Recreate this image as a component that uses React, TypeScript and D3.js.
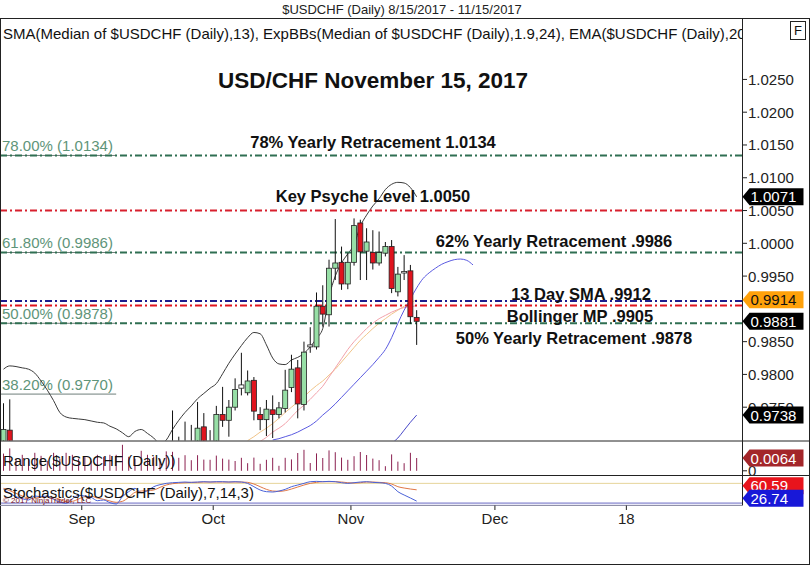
import React from "react";
import * as d3 from "d3";

// ---------- DATA ----------
const tradingDates = [
  "8/15","8/16","8/17","8/18","8/21","8/22","8/23","8/24","8/25","8/28","8/29","8/30","8/31",
  "9/1","9/4","9/5","9/6","9/7","9/8","9/11","9/12","9/13","9/14","9/15","9/18","9/19","9/20","9/21","9/22","9/25","9/26","9/27","9/28","9/29",
  "10/2","10/3","10/4","10/5","10/6","10/9","10/10","10/11","10/12","10/13","10/16","10/17","10/18","10/19","10/20","10/23","10/24","10/25","10/26","10/27","10/30","10/31",
  "11/1","11/2","11/3","11/6","11/7","11/8","11/9","11/10","11/13","11/14","11/15",
];

const openPrices = [
  0.9690,0.9715,0.9660,0.9640,0.9620,0.9600,0.9670,0.9620,0.9630,0.9560,0.9540,0.9520,0.9580,
  0.9590,0.9580,0.9570,0.9510,0.9540,0.9480,0.9460,0.9570,0.9600,0.9630,0.9570,0.9600,0.9640,0.9645,0.9690,0.9680,0.9665,0.9690,0.9685,0.9720,0.9692,
  0.9684,0.9739,0.9730,0.9750,0.9779,0.9772,0.9791,0.9739,0.9731,0.9746,0.9739,0.9748,0.9780,0.9810,0.9754,0.9845,0.9842,0.9904,0.9891,0.9962,0.9971,0.9938,
  0.9971,1.0031,0.9988,0.9986,0.9970,0.9985,0.9995,0.9926,0.9957,0.9958,0.9887,
];
const highPrices = [
  0.9756,0.9762,0.9690,0.9660,0.9640,0.9680,0.9685,0.9650,0.9640,0.9580,0.9560,0.9590,0.9610,
  0.9630,0.9600,0.9580,0.9560,0.9550,0.9500,0.9580,0.9620,0.9640,0.9650,0.9620,0.9660,0.9680,0.9697,0.9745,0.9705,0.9728,0.9723,0.9758,0.9741,0.9715,
  0.9752,0.9781,0.9761,0.9794,0.9833,0.9806,0.9796,0.9750,0.9761,0.9768,0.9758,0.9807,0.9830,0.9822,0.9850,0.9872,0.9925,0.9936,0.9975,1.0037,0.9995,0.9985,
  1.0038,1.0036,1.0023,1.0020,1.0018,1.0002,1.0005,0.9964,0.9982,0.9967,0.9898,
];
const lowPrices = [
  0.9670,0.9650,0.9630,0.9580,0.9580,0.9590,0.9610,0.9600,0.9550,0.9520,0.9470,0.9510,0.9550,
  0.9560,0.9550,0.9500,0.9490,0.9470,0.9420,0.9450,0.9550,0.9580,0.9550,0.9540,0.9590,0.9620,0.9600,0.9650,0.9640,0.9650,0.9670,0.9680,0.9685,0.9660,
  0.9675,0.9720,0.9705,0.9745,0.9768,0.9768,0.9730,0.9715,0.9706,0.9703,0.9733,0.9742,0.9773,0.9733,0.9745,0.9833,0.9838,0.9873,0.9873,0.9944,0.9929,0.9930,
  0.9966,0.9944,0.9944,0.9960,0.9966,0.9980,0.9924,0.9919,0.9944,0.9877,0.9845,
];
const closePrices = [
  0.9716,0.9660,0.9640,0.9620,0.9600,0.9670,0.9620,0.9630,0.9560,0.9540,0.9520,0.9580,0.9590,
  0.9580,0.9570,0.9510,0.9540,0.9480,0.9460,0.9570,0.9600,0.9630,0.9570,0.9600,0.9640,0.9645,0.9690,0.9680,0.9665,0.9690,0.9685,0.9718,0.9692,0.9684,
  0.9739,0.9730,0.9750,0.9777,0.9784,0.9790,0.9744,0.9731,0.9747,0.9739,0.9749,0.9776,0.9808,0.9755,0.9834,0.9842,0.9904,0.9892,0.9962,0.9970,0.9938,0.9971,
  1.0027,0.9987,1.0002,0.9970,0.9986,0.9995,0.9931,0.9953,0.9955,0.9888,0.9881,
];

const upperBand = [
  0.9808,0.9813,0.9812,0.9810,0.9808,0.9802,0.9790,0.9776,0.9760,0.9742,
  0.9735,0.9733,0.9732,0.9731,0.9729,0.9727,0.9726,0.9721,0.9717,0.9711,
  0.9705,0.9713,0.9716,0.9710,0.9703,0.9694,0.9700,0.9716,0.9730,0.9742,
  0.9752,0.9763,0.9771,0.9779,0.9786,0.9801,0.9817,0.9831,0.9844,0.9856,
  0.9864,0.9862,0.9845,0.9825,0.9816,0.9815,0.9822,0.9826,0.9832,0.9842,
  0.9855,0.9870,0.9918,0.9950,0.9970,0.9984,0.9998,1.0026,1.0043,1.0057,
  1.0068,1.0082,1.0090,1.0093,1.0092,1.0085,1.0071,
];
const lowerBandStart = 62;
const lowerBand = [0.9695,0.9703,0.9715,0.9727,0.9738];
const midBandStart = 41;
const midBand = [0.9698,0.9704,0.9712,0.9718,0.9725,0.9735,0.9745,0.9753,0.9762,0.9772,0.9782,0.9796,0.9810,0.9824,0.9838,0.9850,0.9860,0.9870,0.9878,0.9885,0.9890,0.9895,0.9899,0.9902,0.9903,0.9905];
const ema20Start = 39;
const ema20 = [0.9699,0.9705,0.9712,0.9718,0.9725,0.9733,0.9742,0.9750,0.9758,0.9766,0.9775,0.9783,0.9790,0.9799,0.9808,0.9819,0.9830,0.9841,0.9852,0.9861,0.9870,0.9878,0.9885,0.9892,0.9898,0.9904,0.9909,0.9914];
const smaShiftStart = 43;
const smaShifted = [0.9700,0.9702,0.9705,0.9708,0.9712,0.9717,0.9722,0.9729,0.9738,0.9746,0.9755,0.9765,0.9775,0.9785,0.9795,0.9805,0.9815,0.9826,0.9838,0.9856,0.9878,0.9898,0.9915,0.9932,0.9946,0.9955,0.9962,0.9968,0.9972,0.9975,0.9976,0.9974,0.9967];

const rangeValues = [
  0.0086,0.0112,0.0060,0.0080,0.0060,0.0090,0.0075,0.0050,0.0090,0.0060,0.0090,0.0080,0.0060,
  0.0070,0.0050,0.0080,0.0070,0.0080,0.0080,0.0130,0.0070,0.0060,0.0100,0.0080,0.0070,0.0060,0.0097,0.0095,0.0065,0.0078,0.0053,0.0078,0.0056,0.0055,
  0.0076,0.0061,0.0056,0.0049,0.0065,0.0038,0.0066,0.0035,0.0055,0.0065,0.0025,0.0065,0.0057,0.0089,0.0105,0.0039,0.0087,0.0064,0.0102,0.0093,0.0066,0.0055,
  0.0073,0.0094,0.0079,0.0061,0.0053,0.0023,0.0082,0.0046,0.0038,0.0090,0.0064,
];
const stochK = [
  62,50,40,34,30,42,40,42,32,24,20,34,44,42,38,28,30,22,18,40,55,65,52,58,70,76,80,
  82,83,84,83,84,85,84,85,85,84,85,84,80,70,60,55,54,57,62,70,75,80,85,86,85,86,85,82,80,
  82,84,85,83,82,80,72,55,45,36,26.74,
];
const stochD = [
  65,58,50,42,36,36,38,40,38,32,25,26,33,40,41,36,32,27,23,26,38,53,57,58,60,68,75,
  79,81,82,83,83,84,84,84,84,84,84,84,83,78,70,62,57,56,58,63,69,75,80,83,85,85,85,84,82,
  81,82,84,84,83,82,78,70,66,63,60.59,
];

const priceTicks = [0.975,0.98,0.985,0.995,1.0,1.005,1.01,1.015,1.02,1.025];
const monthLabels = ["Sep","Oct","Nov","Dec","18"];
const monthStartIndex = [13,34,56,79,100];

const levelValues = [1.0134,1.0050,0.9986,0.9912,0.9905,0.9878];
const levelTexts = [
  "78% Yearly Retracement 1.0134",
  "Key Psyche Level 1.0050",
  "62% Yearly Retracement .9986",
  "13 Day SMA .9912",
  "Bollinger MP .9905",
  "50% Yearly Retracement .9878",
];
const fibValues = [1.0134,0.9986,0.9878,0.9770];
const fibTexts = ["78.00% (1.0134)","61.80% (0.9986)","50.00% (0.9878)","38.20% (0.9770)"];

// ---------- STYLE ----------
const FONT = "'Liberation Sans', Arial, Helvetica, sans-serif";
const LEVEL_COLORS = ["#2f6f52","#d8202e","#2f6f52","#1c1c8c","#e0141e","#2f6f52"];
const LEVEL_LABEL_POS = [
  { cx: 373, by: 148 },
  { cx: 373, by: 201.5 },
  { cx: 554, by: 247 },
  { cx: 581, by: 300 },
  { cx: 580, by: 322 },
  { cx: 574, by: 343.5 },
];

function Flag({ cy, text, fill, color }: { cy: number; text: string; fill: string; color: string }) {
  const x0 = 742.5, w = 61, h = 17;
  const d = `M${x0},${cy} L${x0 + 7},${cy - h / 2} L${x0 + w},${cy - h / 2} L${x0 + w},${cy + h / 2} L${x0 + 7},${cy + h / 2} Z`;
  return (
    <g>
      <path d={d} fill={fill} />
      <text x={x0 + 8} y={cy + 5.5} fill={color} fontSize={15} fontFamily={FONT}>{text}</text>
    </g>
  );
}

export default function App() {
  const n = tradingDates.length;
  const x = d3.scaleLinear().domain([0, n - 1]).range([3.5, 3.5 + (n - 1) * 6.26]);
  const yMain = d3.scaleLinear().domain([0.96992, 1.03437]).range([440.5, 18]);
  const yRange = d3.scaleLinear().domain([0, 0.015]).range([470.8, 440.8]);
  const yStoch = d3.scaleLinear().domain([0, 100]).range([510, 476.7]);

  const line = d3.line<[number, number]>().x((d) => d[0]).y((d) => d[1]).curve(d3.curveMonotoneX);
  const seriesPath = (vals: number[], start: number, ys: (v: number) => number) =>
    line(vals.map((v, k) => [x(start + k), ys(v)] as [number, number])) || "";

  const bodyW = 5;

  // stochastic flags with simple collision push (kept inside the panel)
  let dFlagY = yStoch(stochD[n - 1]);
  let kFlagY = yStoch(stochK[n - 1]);
  if (Math.abs(kFlagY - dFlagY) < 13) {
    const mid = (kFlagY + dFlagY) / 2 - 3.5;
    const up = dFlagY < kFlagY;
    dFlagY = mid + (up ? -6.3 : 6.3);
    kFlagY = mid + (up ? 6.3 : -6.3);
  }

  return (
    <div style={{ position: "absolute", left: 0, top: 0, width: 810, height: 565 }}>
      <svg width={810} height={565} style={{ display: "block", background: "#fff" }} fontFamily={FONT}>
        <defs>
          <clipPath id="mainClip"><rect x={1} y={18.5} width={741} height={422} /></clipPath>
          <clipPath id="rangeClip"><rect x={1} y={441.5} width={741} height={33.5} /></clipPath>
          <clipPath id="stochClip"><rect x={1} y={476} width={741} height={29} /></clipPath>
        </defs>

        {/* header */}
        <text x={402} y={14} textAnchor="middle" fontSize={13} fill="#222">$USDCHF (Daily)  8/15/2017 - 11/15/2017</text>

        {/* main panel */}
        <g clipPath="url(#mainClip)">
          <text x={3} y={39} fontSize={15} fill="#111">SMA(Median of $USDCHF (Daily),13), ExpBBs(Median of $USDCHF (Daily),1.9,24), EMA($USDCHF (Daily),20)</text>
          <text x={373} y={88} textAnchor="middle" fontSize={22.5} fontWeight="bold" fill="#111">USD/CHF November 15, 2017</text>

          {/* fib lines & labels */}
          {fibValues.map((v, k) => (
            <g key={"fib" + k}>
              <line x1={0} x2={x(18)} y1={yMain(v)} y2={yMain(v)} stroke="#6f7f7a" strokeWidth={1} />
              <text x={2} y={yMain(v) - 4.5} fontSize={15} fill="#5e9479">{fibTexts[k]}</text>
            </g>
          ))}

          {/* indicator lines */}
          <path d={seriesPath(ema20, ema20Start, yMain)} fill="none" stroke="#f0c48a" strokeWidth={1} />
          <path d={seriesPath(midBand, midBandStart, yMain)} fill="none" stroke="#f2a2aa" strokeWidth={1} />
          <path d={seriesPath(smaShifted, smaShiftStart, yMain)} fill="none" stroke="#5a5ae0" strokeWidth={1} />
          <path d={seriesPath(lowerBand, lowerBandStart, yMain)} fill="none" stroke="#4848c8" strokeWidth={1} />
          <path d={seriesPath(upperBand, 0, yMain)} fill="none" stroke="#3a3a3a" strokeWidth={1} />

          {/* level lines */}
          {levelValues.map((v, k) => (
            <line key={"lv" + k} x1={0} x2={742} y1={yMain(v)} y2={yMain(v)} stroke={LEVEL_COLORS[k]} strokeWidth={2} strokeDasharray="7,3,2,3" />
          ))}

          {/* candles */}
          {tradingDates.map((dt, i) => {
            const o = openPrices[i], c = closePrices[i], h = highPrices[i], l = lowPrices[i];
            const cx = x(i);
            const top = yMain(Math.max(o, c));
            const bot = yMain(Math.min(o, c));
            const doji = Math.abs(c - o) < 0.0006;
            const fill = doji ? "#ffffff" : c >= o ? "#97dfa6" : "#e0141e";
            return (
              <g key={dt}>
                <line x1={cx} x2={cx} y1={yMain(h)} y2={yMain(l)} stroke="#111" strokeWidth={1} />
                <rect x={cx - bodyW / 2} y={top} width={bodyW} height={Math.max(1.5, bot - top)} fill={fill} stroke="#222" strokeWidth={0.8} />
              </g>
            );
          })}

          {/* annotation texts */}
          {levelTexts.map((t, k) => (
            <text key={"lt" + k} x={LEVEL_LABEL_POS[k].cx} y={LEVEL_LABEL_POS[k].by} textAnchor="middle" fontSize={16.5} fontWeight="bold" fill="#111">{t}</text>
          ))}
        </g>

        {/* range panel */}
        <g clipPath="url(#rangeClip)">
          {rangeValues.map((r, i) => (
            <line key={"r" + i} x1={x(i)} x2={x(i)} y1={yRange(0)} y2={yRange(r)} stroke="#8b2050" strokeWidth={1} />
          ))}
          <text x={3} y={466} fontSize={15} fill="#111">Range($USDCHF (Daily))</text>
        </g>

        {/* stochastic panel */}
        <g clipPath="url(#stochClip)">
          <line x1={0} x2={742} y1={yStoch(80)} y2={yStoch(80)} stroke="#e6d49a" strokeWidth={1} />
          <line x1={0} x2={742} y1={yStoch(20)} y2={yStoch(20)} stroke="#a8a8dc" strokeWidth={2} />
          <path d={seriesPath(stochD, 0, yStoch)} fill="none" stroke="#e07848" strokeWidth={1} />
          <path d={seriesPath(stochK, 0, yStoch)} fill="none" stroke="#4a62d8" strokeWidth={1} />
          <text x={3} y={498} fontSize={15} fill="#111">Stochastics($USDCHF (Daily),7,14,3)</text>
          <text x={3} y={503} fontSize={8} fill="#7a1020">© 2017 NinjaTrader, LLC</text>
        </g>

        {/* frames */}
        <g stroke="#222" strokeWidth={1} fill="none">
          <line x1={0} x2={810} y1={18.5} y2={18.5} />
          <line x1={0.5} x2={0.5} y1={18} y2={565} />
          <line x1={809.5} x2={809.5} y1={18} y2={565} />
          <line x1={0} x2={810} y1={564.5} y2={564.5} />
          <line x1={742.5} x2={742.5} y1={18} y2={505.5} />
          <line x1={0} x2={810} y1={441} y2={441} />
          <line x1={0} x2={810} y1={475.5} y2={475.5} />
          <line x1={0} x2={742.5} y1={505.5} y2={505.5} stroke="#9090a8" />
        </g>
        <rect x={790.5} y={21.5} width={15} height={18} fill="#fff" stroke="#222" />
        <text x={798} y={35} textAnchor="middle" fontSize={13} fill="#111">F</text>

        {/* right price axis */}
        {priceTicks.map((v) => (
          <g key={"pt" + v}>
            <line x1={743} x2={747} y1={yMain(v)} y2={yMain(v)} stroke="#222" />
            <text x={748} y={yMain(v) + 5.5} fontSize={15} fill="#222">{v.toFixed(4)}</text>
          </g>
        ))}
        <line x1={743} x2={747} y1={yRange(0)} y2={yRange(0)} stroke="#222" />
        <text x={748} y={yRange(0) + 5.5} fontSize={15} fill="#222">0</text>

        {/* flags */}
        <Flag cy={yMain(upperBand[n - 1])} text={upperBand[n - 1].toFixed(4)} fill="#000" color="#fff" />
        <Flag cy={yMain(ema20[ema20.length - 1])} text={ema20[ema20.length - 1].toFixed(4)} fill="#ffa10a" color="#111" />
        <Flag cy={yMain(closePrices[n - 1])} text={closePrices[n - 1].toFixed(4)} fill="#000" color="#fff" />
        <Flag cy={yMain(lowerBand[lowerBand.length - 1])} text={lowerBand[lowerBand.length - 1].toFixed(4)} fill="#000" color="#fff" />
        <Flag cy={yRange(rangeValues[n - 1])} text={rangeValues[n - 1].toFixed(4)} fill="#a3262a" color="#fff" />
        <Flag cy={dFlagY} text={stochD[n - 1].toFixed(2)} fill="#e8141c" color="#fff" />
        <Flag cy={kFlagY} text={stochK[n - 1].toFixed(2)} fill="#1818d8" color="#fff" />

        {/* x axis */}
        {monthLabels.map((m, k) => {
          const tx = x(monthStartIndex[k] - 0.5);
          return (
            <g key={"m" + m}>
              <line x1={tx} x2={tx} y1={505.5} y2={510} stroke="#222" />
              <text x={tx} y={524} textAnchor="middle" fontSize={15} fill="#222">{m}</text>
            </g>
          );
        })}
      </svg>
    </div>
  );
}
